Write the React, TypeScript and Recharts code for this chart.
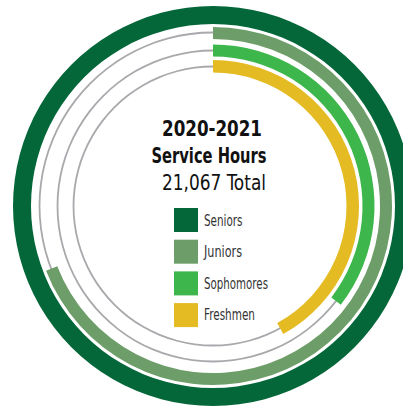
import React from 'react';
import { PieChart, Pie, Cell } from 'recharts';

// class groups and their service hours (total 21,067)
const categories = ['Seniors', 'Juniors', 'Sophomores', 'Freshmen'];
const hours = [8543, 5905, 3030, 3589];
const colors = ['#03673a', '#6d9d68', '#3db64b', '#e4bb22'];

const titleLines = ['2020-2021', 'Service Hours'];
const totalLabel = '21,067 Total';

// ring geometry (px)
const CX = 213;
const CY = 206;
const rings = [
  { inner: 182, outer: 200, track: null },
  { inner: 167, outer: 179, track: 173.5 },
  { inner: 149.5, outer: 161.5, track: 155.5 },
  { inner: 133.5, outer: 146, track: 139.5 },
];

const maxHours = Math.max(...hours);
const font = '"Liberation Sans Narrow", "DejaVu Sans Condensed", "DejaVu Sans", sans-serif';

export default function App() {
  return (
    <div style={{ position: 'absolute', left: 0, top: 0 }}>
      <PieChart width={403} height={409} margin={{ top: 0, right: 0, bottom: 0, left: 0 }}>
        {rings.map((r, i) =>
          r.track ? (
            <Pie
              key={`track-${i}`}
              data={[{ name: 'track', value: maxHours }]}
              dataKey="value"
              cx={CX}
              cy={CY}
              innerRadius={r.track - 0.9}
              outerRadius={r.track + 0.9}
              startAngle={90}
              endAngle={-270}
              stroke="none"
              fill="#a9a9ad"
              isAnimationActive={false}
            />
          ) : null
        )}
        {categories.map((c, i) => (
          <Pie
            key={c}
            data={[
              { name: c, value: hours[i] },
              { name: 'rest', value: maxHours - hours[i] },
            ]}
            dataKey="value"
            cx={CX}
            cy={CY}
            innerRadius={rings[i].inner}
            outerRadius={rings[i].outer}
            startAngle={90}
            endAngle={-270}
            stroke="none"
            isAnimationActive={false}
          >
            <Cell fill={colors[i]} />
            <Cell fill="transparent" />
          </Pie>
        ))}
        <text x={212} y={136} textAnchor="middle" fontFamily={font} fontWeight="bold" fontSize={22}
          fill="#111" textLength={100} lengthAdjust="spacingAndGlyphs">
          {titleLines[0]}
        </text>
        <text x={209} y={163} textAnchor="middle" fontFamily={font} fontWeight="bold" fontSize={22}
          fill="#111" textLength={115} lengthAdjust="spacingAndGlyphs">
          {titleLines[1]}
        </text>
        <text x={214} y={190} textAnchor="middle" fontFamily={font} fontSize={22}
          fill="#111" textLength={104} lengthAdjust="spacingAndGlyphs">
          {totalLabel}
        </text>
        {categories.map((c, i) => (
          <g key={`leg-${c}`}>
            <rect x={174} y={208 + i * 31.7} width={24} height={24} fill={colors[i]} />
            <text x={204} y={226 + i * 31.3} fontFamily={font} fontSize={15} fill="#333"
              textLength={[38.5, 38, 64, 51][i]} lengthAdjust="spacingAndGlyphs">
              {c}
            </text>
          </g>
        ))}
      </PieChart>
    </div>
  );
}
